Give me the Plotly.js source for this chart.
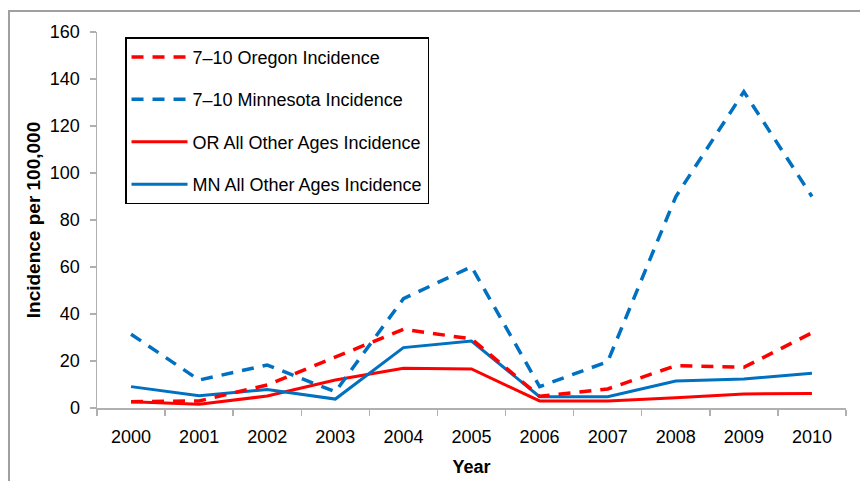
<!DOCTYPE html>
<html>
<head>
<meta charset="utf-8">
<script src="https://cdn.plot.ly/plotly-3.0.1.min.js"></script>
<style>
  html, body { margin: 0; padding: 0; background: #fff; }
  #chart { width: 860px; height: 481px; }
</style>
</head>
<body>
<div id="chart"></div>
<script>
const years = ["2000","2001","2002","2003","2004","2005","2006","2007","2008","2009","2010"];
const orYouth = [2.7, 3.0, 9.8, 21.6, 33.5, 29.4, 5.0, 8.1, 18.0, 17.3, 32.0];
const mnYouth = [31.4, 11.9, 18.3, 6.9, 46.5, 60.1, 9.1, 19.7, 89.9, 134.6, 90.0];
const orOther = [2.7, 1.6, 5.1, 11.9, 16.9, 16.6, 3.0, 3.0, 4.4, 6.0, 6.2];
const mnOther = [9.1, 5.2, 7.9, 3.8, 25.7, 28.5, 4.8, 4.8, 11.5, 12.3, 14.8];
const seriesNames = ["7\u201310 Oregon Incidence", "7\u201310 Minnesota Incidence",
                     "OR All Other Ages Incidence", "MN All Other Ages Incidence"];
const yTicks = [0, 20, 40, 60, 80, 100, 120, 140, 160];

const RED = "#ff0000", BLUE = "#0070c0";
const FONT = "Liberation Sans, Arial, sans-serif";

function tr(y, name, color, dash, grp, rank) {
  return {
    x: years, y: y, name: name, type: "scatter", mode: "lines",
    legendgroup: grp, legendrank: rank,
    line: { color: color, width: dash ? 3.5 : 3, dash: dash ? "12px,9px" : "solid" }
  };
}

const data = [
  tr(orOther, seriesNames[2], RED, false, "c", 3),
  tr(mnOther, seriesNames[3], BLUE, false, "d", 4),
  tr(orYouth, seriesNames[0], RED, true, "a", 1),
  tr(mnYouth, seriesNames[1], BLUE, true, "b", 2)
];

const layout = {
  width: 860, height: 481,
  margin: { l: 97, r: 14, t: 32, b: 73 },
  paper_bgcolor: "#ffffff", plot_bgcolor: "#ffffff",
  font: { family: FONT, size: 18, color: "#000" },
  showlegend: true,
  legend: {
    x: 0.0374, y: 0.986, xanchor: "left", yanchor: "top",
    bordercolor: "#000", borderwidth: 1.5, bgcolor: "#fff",
    font: { family: FONT, size: 18, color: "#000" },
    traceorder: "grouped", tracegroupgap: 16, itemwidth: 56
  },
  xaxis: {
    type: "category", range: [-0.5, 10.5],
    showgrid: false, zeroline: false,
    showline: true, linecolor: "#b0b0b0", linewidth: 1.5,
    ticks: "outside", ticklen: 6, tickcolor: "#b0b0b0", tickwidth: 1.5,
    tickson: "boundaries",
    tickfont: { family: FONT, size: 18 },
    ticklabelstandoff: 12,
    title: { text: "<b>Year</b>", font: { family: FONT, size: 18 }, standoff: 14 }
  },
  yaxis: {
    range: [0, 160], tickvals: yTicks, ticktext: yTicks.map(String),
    showgrid: false, zeroline: false,
    showline: true, linecolor: "#b0b0b0", linewidth: 1.5,
    ticks: "outside", ticklen: 6, tickcolor: "#b0b0b0", tickwidth: 1.5,
    tickfont: { family: FONT, size: 18 },
    ticklabelstandoff: 6,
    title: { text: "<b>Incidence per 100,000</b>", font: { family: FONT, size: 19 }, standoff: 4 }
  },
  shapes: [{
    type: "rect", xref: "paper", yref: "paper",
    x0: -0.1175, x1: 1.1, y0: -0.4, y1: 1.0559,
    line: { color: "#a0a0a0", width: 2 }, fillcolor: "rgba(0,0,0,0)", layer: "below"
  }]
};

Plotly.newPlot("chart", data, layout, { displayModeBar: false, staticPlot: true });
</script>
</body>
</html>
